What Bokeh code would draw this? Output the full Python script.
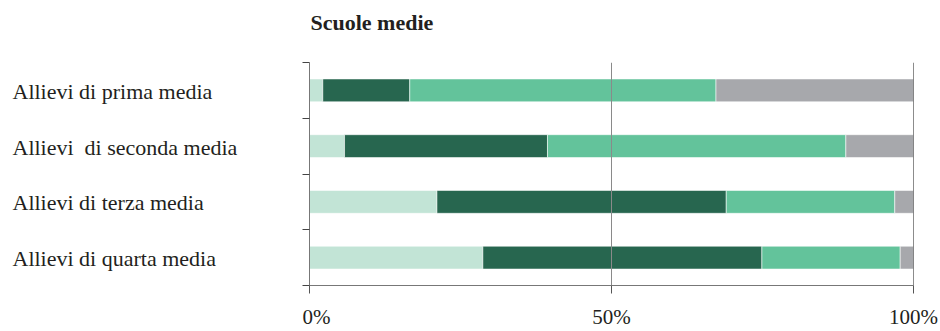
from bokeh.plotting import figure
from bokeh.layouts import row, column
from bokeh.models import Range1d, FixedTicker, Span, ColumnDataSource
from bokeh.core.properties import value
from bokeh.embed import file_html
from bokeh.resources import INLINE

title = "Scuole medie"
categories = ["Allievi di prima media", "Allievi  di seconda media",
              "Allievi di terza media", "Allievi di quarta media"]
s1 = [2.2, 5.8, 21.1, 28.7]
s2 = [14.4, 33.6, 47.9, 46.2]
s3 = [50.7, 49.4, 27.9, 22.9]
s4 = [32.7, 11.2, 3.1, 2.2]
x_ticks = [0, 50, 100]
x_tick_labels = ["0%", "50%", "100%"]
colors = ["#c2e4d6", "#27664f", "#63c39b", "#a7a8ac"]

FONT = "Liberation Serif"
TXT = "#231f20"

n = len(categories)
ys = [i + 0.5 for i in range(n)]
# keep the double space visible (SVG collapses plain runs of spaces)
shown = [c.replace("  ", " \u00a0") for c in categories]
src = ColumnDataSource(dict(y=ys, s1=s1, s2=s2, s3=s3, s4=s4, cat=shown, x0=[0] * n))

x_range = Range1d(0, 100)
y_range = Range1d(n, 0)

# ---- title strip (top) ----
top = figure(width=940, height=62, output_backend="svg", toolbar_location=None,
             x_range=x_range, y_range=Range1d(0, 1),
             min_border_left=309, min_border_right=27, min_border_top=0, min_border_bottom=0)
top.axis.visible = False
top.grid.visible = False
top.outline_line_color = None
top.text(x=[x_ticks[0]], y=[0.5], text=[title], x_offset=1, y_offset=-9,
         text_align="left", text_baseline="alphabetic",
         text_font=value(FONT), text_font_size="22px", text_font_style="bold",
         text_color=TXT)

# ---- label column (left) ----
lab = figure(width=302, height=269, output_backend="svg", toolbar_location=None,
             x_range=Range1d(0, 1), y_range=y_range,
             min_border_left=0, min_border_right=0, min_border_top=0, min_border_bottom=43)
lab.axis.visible = False
lab.grid.visible = False
lab.outline_line_color = None
lab.text(x="x0", y="y", text="cat", source=src, x_offset=12, y_offset=1,
         text_align="left", text_baseline="middle",
         text_font=value(FONT), text_font_size="22px", text_color=TXT)

# ---- main chart ----
p = figure(width=638, height=269, output_backend="svg", toolbar_location=None,
           x_range=x_range, y_range=y_range,
           min_border_left=7, min_border_right=27,
           min_border_top=0, min_border_bottom=43)
p.outline_line_color = None
p.xgrid.visible = False
p.ygrid.visible = False

p.hbar_stack(["s1", "s2", "s3", "s4"], y="y", height=0.41, source=src,
             fill_color=colors, line_color="white", line_width=0.8, line_alpha=0.7)

# x axis
p.xaxis.ticker = FixedTicker(ticks=x_ticks)
p.xaxis.major_label_overrides = {t: l for t, l in zip(x_ticks, x_tick_labels)}
p.xaxis.major_label_text_font = FONT
p.xaxis.major_label_text_font_size = "21px"
p.xaxis.major_label_text_color = TXT
p.xaxis.major_label_standoff = 11
p.xaxis.major_tick_out = 8
p.xaxis.major_tick_in = 0
p.xaxis.minor_tick_line_color = None
p.xaxis.axis_line_color = "#777777"
p.xaxis.major_tick_line_color = "#555555"

# y axis: only boundary ticks (minor ticks, so no labels)
p.yaxis.ticker = FixedTicker(ticks=[], minor_ticks=list(range(n + 1)))
p.yaxis.major_label_standoff = 0
p.yaxis.minor_tick_out = 7
p.yaxis.minor_tick_in = 0
p.yaxis.minor_tick_line_color = "#444444"
p.yaxis.axis_line_color = "#777777"

# reference lines at 50% and 100%
p.add_layout(Span(location=x_ticks[1], dimension="height", line_color="#8a8a8a", line_width=1))
p.add_layout(Span(location=x_ticks[2], dimension="height", line_color="#1a1a1a", line_width=1))

layout = column(top, row(lab, p))
open("out.html", "w").write(file_html(layout, INLINE))
